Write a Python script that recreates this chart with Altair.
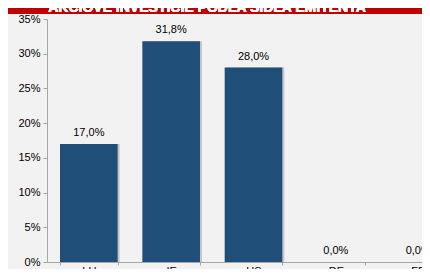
import altair as alt
import pandas as pd

categories = ["LU", "IE", "US", "DE", "FR"]
values = [17.0, 31.8, 28.0, 0.0, 0.0]
y_ticks = [0, 5, 10, 15, 20, 25, 30, 35]
title_text = "AKCIOVÉ INVESTÍCIE PODĽA SÍDLA EMITENTA"

df = pd.DataFrame({"cat": categories, "v": values})

FONT = "Liberation Sans"

x_enc = alt.X(
    "cat:N",
    sort=categories,
    title=None,
    scale=alt.Scale(range=[0, 413], paddingInner=0.30, paddingOuter=0.158),
    axis=alt.Axis(
        labelAngle=0,
        domainColor="#a6a6a6",
        tickColor="#a6a6a6",
        tickSize=3,
        tickBand="extent",
        labelPadding=0,
        labelFont=FONT,
        labelFontSize=11,
        labelColor="#000000",
    ),
)
y_enc = alt.Y(
    "v:Q",
    title=None,
    scale=alt.Scale(domain=[0, 35], nice=False),
    axis=alt.Axis(
        values=y_ticks,
        labelExpr="datum.value + '%'",
        labelOverlap=False,
        labelFlush=False,
        labelBound=False,
        grid=False,
        domainColor="#a6a6a6",
        tickColor="#a6a6a6",
        tickSize=4,
        labelPadding=3,
        labelFont=FONT,
        labelFontSize=11,
        labelColor="#000000",
    ),
)

base = alt.Chart(df)

shadow = base.mark_bar(color="#9a9a9a", opacity=0.5, xOffset=2).encode(x=x_enc, y=y_enc)
bars = base.mark_bar(color="#1f4e79").encode(x=x_enc, y=y_enc)
labels = (
    base.transform_calculate(
        lab="replace(format(datum.v, '.1f'), '.', ',') + '%'"
    )
    .mark_text(baseline="bottom", dy=-6, font=FONT, fontSize=11, color="#000000")
    .encode(x=x_enc, y=y_enc, text="lab:N")
)

red_bar = base.mark_rect(color="#c00000").encode(
    x=alt.value(-39), x2=alt.value(375), y=alt.value(-11), y2=alt.value(-5)
)
title = base.mark_text(
    font=FONT, fontSize=14, fontWeight="bold", color="#ffffff",
    baseline="alphabetic", align="center"
).encode(x=alt.value(160), y=alt.value(-7), text=alt.value(title_text))

chart = (
    alt.layer(shadow, bars, labels, red_bar, title)
    .properties(
        width=375,
        height=243,
        background="#f2f2f2",
        padding={"left": 39, "top": 11, "right": 0, "bottom": 7},
        autosize=alt.AutoSizeParams(type="none"),
    )
    .configure_view(stroke=None)
)

chart.save("out.html", embed_options={"renderer": "svg", "actions": False})
